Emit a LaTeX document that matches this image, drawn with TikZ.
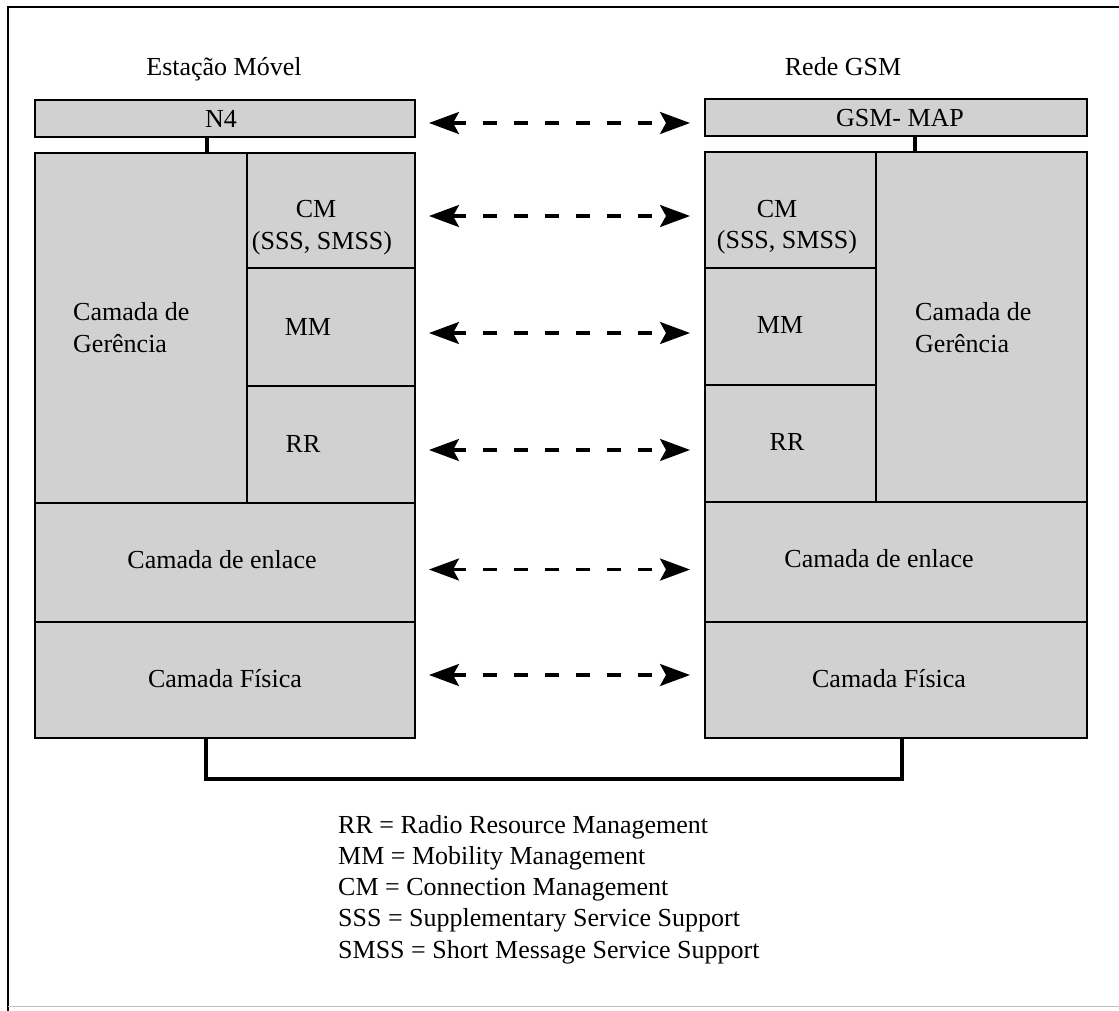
\documentclass[tikz,border=0pt]{standalone}
\usepackage{fontspec}
\setmainfont{Liberation Serif}
\usetikzlibrary{arrows.meta}
\begin{document}
\begin{tikzpicture}[x=1pt,y=-1pt,
  cell/.style={draw=black,line width=2.8pt,fill=black!18,rectangle,inner sep=0pt,outer sep=0pt,anchor=north west},
  lbl/.style={font=\fontsize{26}{31}\selectfont,inner sep=0pt,anchor=base},
  lbll/.style={lbl,anchor=base west},
  tip/.tip={Stealth[length=30pt,width=22pt,inset=6pt]},
  peer/.style={line width=3.2pt,dash pattern=on 14pt off 17pt,tip-tip},
  link/.style={line width=3.2pt},
]
\useasboundingbox (0,0) rectangle (1119,1010);

% page frame
\draw[line width=2pt] (8,1012) -- (8,7) -- (1125,7);
\draw[line width=1pt,black!25] (8,1006) -- (1125,1006);

% column titles
\node[lbl] (tms) at (224,75) {Estação Móvel};
\node[lbl] (tnet) at (843,75) {Rede GSM};

% mobile station protocol stack
\node[cell,minimum width=380pt,minimum height=37pt] (ln4) at (35,100) {};
\node[cell,minimum width=212pt,minimum height=350pt] (lgr) at (35,153) {};
\node[cell,minimum width=168pt,minimum height=115pt] (lcm) at (247,153) {};
\node[cell,minimum width=168pt,minimum height=118pt] (lmm) at (247,268) {};
\node[cell,minimum width=168pt,minimum height=117pt] (lrr) at (247,386) {};
\node[cell,minimum width=380pt,minimum height=119pt] (len) at (35,503) {};
\node[cell,minimum width=380pt,minimum height=116pt] (lfi) at (35,622) {};

% network protocol stack
\node[cell,minimum width=382pt,minimum height=37pt] (rmap) at (705,99) {};
\node[cell,minimum width=171pt,minimum height=116pt] (rcm) at (705,152) {};
\node[cell,minimum width=171pt,minimum height=117pt] (rmm) at (705,268) {};
\node[cell,minimum width=171pt,minimum height=117pt] (rrr) at (705,385) {};
\node[cell,minimum width=211pt,minimum height=350pt] (rgr) at (876,152) {};
\node[cell,minimum width=382pt,minimum height=120pt] (ren) at (705,502) {};
\node[cell,minimum width=382pt,minimum height=116pt] (rfi) at (705,622) {};

% layer labels, mobile station
\node[lbl] (ln4t) at (221,127) {N4};
\node[lbl] (lcmt) at (316,217) {CM};
\node[lbl] (lcmt2) at (322,249) {(SSS, SMSS)};
\node[lbll] (lgrt) at (73,320) {Camada de};
\node[lbll] (lgrt2) at (73,352) {Gerência};
\node[lbl] (lmmt) at (308,335) {MM};
\node[lbl] (lrrt) at (303,452) {RR};
\node[lbl] (lent) at (222,568) {Camada de enlace};
\node[lbl] (lfit) at (225,687) {Camada Física};

% layer labels, network
\node[lbl] (rmapt) at (900,126) {GSM- MAP};
\node[lbl] (rcmt) at (777,217) {CM};
\node[lbl] (rcmt2) at (787,248) {(SSS, SMSS)};
\node[lbll] (rgrt) at (915,320) {Camada de};
\node[lbll] (rgrt2) at (915,352) {Gerência};
\node[lbl] (rmmt) at (780,333) {MM};
\node[lbl] (rrrt) at (787,450) {RR};
\node[lbl] (rent) at (879,567) {Camada de enlace};
\node[lbl] (rfit) at (889,687) {Camada Física};

% stack links
\draw[link] ([xshift=172pt]ln4.south west) -- ([xshift=172pt]lgr.north west);
\draw[link] ([xshift=210pt]rmap.south west) -- ([xshift=39pt]rgr.north west);
\draw[link] ([xshift=171pt]lfi.south west) -- ++(0,41) -| ([xshift=197pt]rfi.south west);

% peer-to-peer protocol arrows
\draw[peer] ([xshift=14pt,yshift=-4.5pt]ln4.east) -- ([xshift=-15pt,yshift=-4.5pt]rmap.west |- ln4.east);
\draw[peer] ([xshift=14pt,yshift=-5.5pt]lcm.east) -- ([xshift=-15pt,yshift=-5.5pt]rcm.west |- lcm.east);
\draw[peer] ([xshift=14pt,yshift=-6pt]lmm.east) -- ([xshift=-15pt,yshift=-6pt]rmm.west |- lmm.east);
\draw[peer] ([xshift=14pt,yshift=-5.5pt]lrr.east) -- ([xshift=-15pt,yshift=-5.5pt]rrr.west |- lrr.east);
\draw[peer] ([xshift=14pt,yshift=-7pt]len.east) -- ([xshift=-15pt,yshift=-7pt]ren.west |- len.east);
\draw[peer] ([xshift=14pt,yshift=5pt]lfi.east) -- ([xshift=-15pt,yshift=5pt]rfi.west |- lfi.east);

% abbreviations
\node[lbll] (k1) at (338,833) {RR = Radio Resource Management};
\node[lbll] (k2) at (338,864) {MM = Mobility Management};
\node[lbll] (k3) at (338,895) {CM = Connection Management};
\node[lbll] (k4) at (338,926) {SSS = Supplementary Service Support};
\node[lbll] (k5) at (338,958) {SMSS = Short Message Service Support};
\end{tikzpicture}
\end{document}
